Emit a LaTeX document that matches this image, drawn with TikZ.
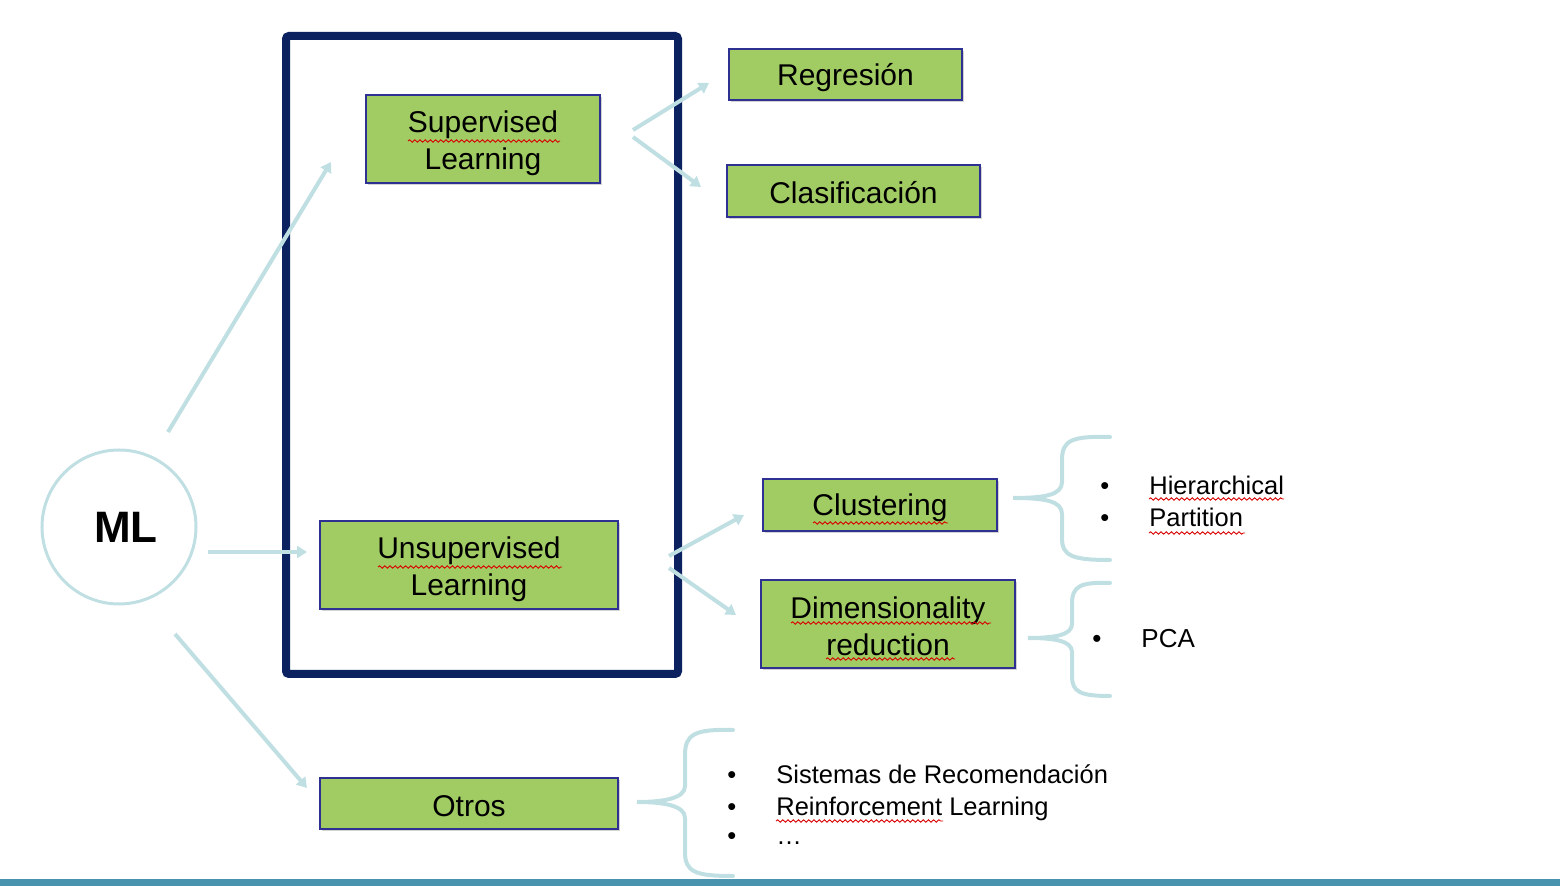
\documentclass[tikz,border=0pt]{standalone}
\usepackage{fontspec}
\setmainfont{Liberation Sans}
\usetikzlibrary{arrows.meta,calc,shadows,decorations.pathmorphing}
\definecolor{navy}{HTML}{0B2160}
\definecolor{boxborder}{HTML}{2E3192}
\definecolor{boxfill}{HTML}{A1CB63}
\definecolor{lblue}{HTML}{BFDFE2}
\definecolor{barcol}{HTML}{4A93AE}
\tikzset{
  box/.style={draw=boxborder, line width=1pt, fill=boxfill, inner sep=0pt,
    drop shadow={shadow xshift=1.2pt, shadow yshift=-1.2pt, opacity=0.35, fill=gray}},
  boxtext/.style={align=center, font=\fontsize{15}{18.5}\selectfont, inner sep=0pt},
  arr/.style={draw=lblue, line width=2pt, -{Triangle[length=5pt,width=6pt]}},
  brace/.style={draw=lblue, line width=2pt, line cap=round},
  item/.style={anchor=base west, font=\fontsize{12.75}{15}\selectfont, inner sep=0pt},
  squig/.style={draw=red!85!black, line width=0.45pt, decorate,
    decoration={snake, amplitude=0.6pt, segment length=2.6pt}}
}
\begin{document}
\begin{tikzpicture}[x=0.5pt,y=-0.5pt]
\useasboundingbox (0,0) rectangle (1560,886);
% bottom bar
\fill[barcol] (0,879) rectangle (1560,886);
% frame
\draw[navy, line width=4pt, rounded corners=1.5pt] (286,36) rectangle (678,674);
% ML circle
\node[circle, draw=lblue, line width=1.5pt, minimum size=77pt] (ml) at (119,527) {};
\node[font=\fontsize{22}{26}\selectfont\bfseries, inner sep=0pt] (mltext) at ($(ml.center)+(7,0)$) {ML};
% boxes
\node[box, minimum width=117pt, minimum height=44pt] (sup) at (483,139) {};
\node[box, minimum width=149pt, minimum height=44pt] (unsup) at (469,565) {};
\node[box, minimum width=149pt, minimum height=25.5pt] (otros) at (469,803.5) {};
\node[box, minimum width=116.5pt, minimum height=25.5pt] (reg) at (845.5,74.5) {};
\node[box, minimum width=126.5pt, minimum height=26pt] (clas) at (853.5,191) {};
\node[box, minimum width=117pt, minimum height=26pt] (clus) at (880,505) {};
\node[box, minimum width=127pt, minimum height=44pt] (dim) at (888,624) {};
% box texts
\node[boxtext] (supT) at ($(sup.center)+(0,4)$) {Supervised\\Learning};
\node[boxtext] (unsupT) at ($(unsup.center)+(0,4)$) {Unsupervised\\Learning};
\node[boxtext] (otrosT) at ($(otros.center)+(0,3)$) {Otros};
\node[boxtext] (regT) at ($(reg.center)+(0,3)$) {Regresión};
\node[boxtext] (clasT) at ($(clas.center)+(0,2)$) {Clasificación};
\node[boxtext] (clusT) at ($(clus.center)+(0,3)$) {Clustering};
\node[boxtext] (dimT) at ($(dim.center)+(0,2)$) {Dimensionality\\reduction};
% connector endpoints
\coordinate (mlA) at ($(ml.center)+(49,-95)$);
\coordinate (mlB) at ($(ml.center)+(89,25)$);
\coordinate (mlC) at ($(ml.center)+(56,107)$);
\coordinate (supA) at ($(sup.west)+(-34,23)$);
\coordinate (unsupA) at ($(unsup.west)+(-12,-13)$);
\coordinate (otrosA) at ($(otros.west)+(-12,-15.5)$);
\coordinate (supR) at ($(sup.east)+(32,-9)$);
\coordinate (supC) at ($(sup.east)+(32,-2)$);
\coordinate (regA) at ($(reg.west)+(-19,8.5)$);
\coordinate (clasA) at ($(clas.west)+(-25,-4)$);
\coordinate (unsupR) at ($(unsup.east)+(50,-9)$);
\coordinate (unsupD) at ($(unsup.east)+(50,3)$);
\coordinate (clusA) at ($(clus.west)+(-18,10)$);
\coordinate (dimA) at ($(dim.west)+(-24,-9)$);
% connectors
\draw[arr] (mlA) -- (supA);
\draw[arr] (mlB) -- (unsupA);
\draw[arr] (mlC) -- (otrosA);
\draw[arr] (supR) -- (regA);
\draw[arr] (supC) -- (clasA);
\draw[arr] (unsupR) -- (clusA);
\draw[arr] (unsupD) -- (dimA);
% braces
\draw[brace] (1110,437) .. controls (1072,436) and (1062,440) .. (1062,460) -- (1062,482)
  .. controls (1062,495) and (1045,498) .. (1013,498)
  .. controls (1045,498) and (1062,501) .. (1062,514) -- (1062,538)
  .. controls (1062,556) and (1072,560) .. (1110,560);
\draw[brace] (1110,583) .. controls (1080,582) and (1072,586) .. (1072,604) -- (1072,624)
  .. controls (1072,635) and (1055,638) .. (1028,638)
  .. controls (1055,638) and (1072,641) .. (1072,652) -- (1072,676)
  .. controls (1072,692) and (1080,696) .. (1110,696);
\draw[brace] (733,730) .. controls (695,729) and (685,734) .. (685,755) -- (685,786)
  .. controls (685,798) and (665,802) .. (637,802)
  .. controls (665,802) and (685,806) .. (685,818) -- (685,852)
  .. controls (685,872) and (695,876) .. (733,876);
% lists
\node[item] (b1) at (1100,495) {•};
\node[item] (t1) at (1149,495) {Hierarchical};
\node[item] (b2) at (1100,527) {•};
\node[item] (t2) at (1149,527) {Partition};
\node[item, font=\fontsize{13}{15}\selectfont] (b3) at (1092,648) {•};
\node[item, font=\fontsize{13}{15}\selectfont] (t3) at (1141,648) {PCA};
\node[item] (b4) at (727,784) {•};
\node[item] (t4) at (776,784) {Sistemas de Recomendación};
\node[item] (b5) at (727,816) {•};
\node[item] (t5) at (776,816) {Reinforcement Learning};
\node[item] (b6) at (727,845) {•};
\node[item] (t6) at (776,845) {…};
% spell-check squiggles
\draw[squig] (408,141) -- (560,141);
\draw[squig] (378,567) -- (562,567);
\draw[squig] (813,523) -- (948,523);
\draw[squig] (791,623) -- (991,623);
\draw[squig] (826,659) -- (955,659);
\draw[squig] (1149,499) -- (1284,499);
\draw[squig] (1149,533) -- (1245,533);
\draw[squig] (776,821) -- (943,821);
\end{tikzpicture}
\end{document}
